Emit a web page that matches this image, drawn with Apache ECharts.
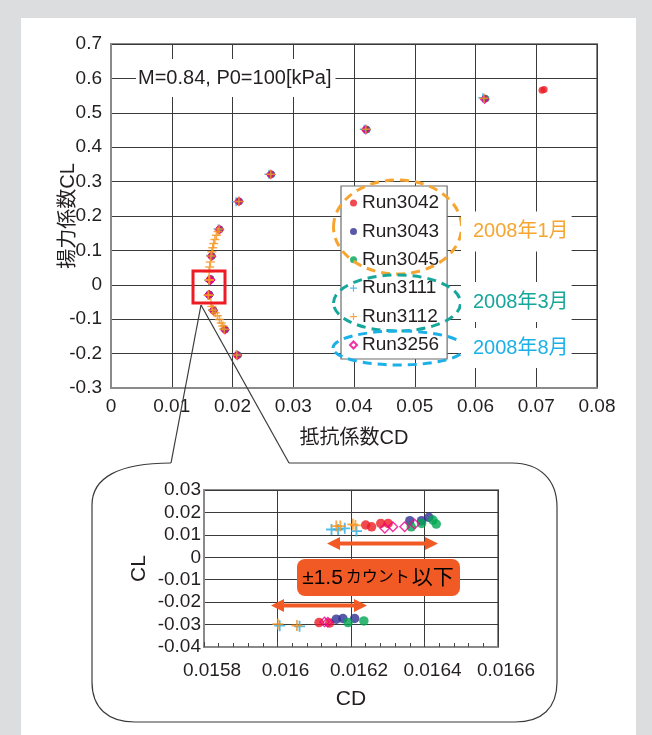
<!DOCTYPE html>
<html>
<head>
<meta charset="utf-8">
<script src="https://cdn.jsdelivr.net/npm/echarts@6.0.0/dist/echarts.min.js"></script>
<style>
  html, body { margin: 0; padding: 0; background: #dcdddf; }
  #chart { width: 652px; height: 735px; }
</style>
</head>
<body>
<div id="chart"></div>
<script>
// Wind-tunnel polar, M=0.84, P0=100 kPa: [CD, CL] per run
const run3042 = [
  [0.02075, -0.2045], [0.01870, -0.1300], [0.01680, -0.0745],
  [0.016113, -0.0291], [0.016142, -0.0293],
  [0.01624, 0.0144], [0.016256, 0.0136], [0.016281, 0.0151], [0.016301, 0.0151],
  [0.01652, 0.0835], [0.01780, 0.1610], [0.02100, 0.2425], [0.02625, 0.3210],
  [0.04190, 0.4515], [0.07095, 0.5655], [0.07130, 0.5675]
];
const run3043 = [
  [0.02085, -0.2035], [0.01880, -0.1290], [0.01690, -0.0735],
  [0.01616, -0.0276], [0.016178, -0.0273], [0.01621, -0.0273],
  [0.01636, 0.0163], [0.016392, 0.0163], [0.016412, 0.0178],
  [0.01660, 0.0845], [0.01790, 0.1620], [0.02110, 0.2430], [0.02640, 0.3220],
  [0.04210, 0.4525], [0.06160, 0.5420]
];
const run3045 = [
  [0.02095, -0.2050], [0.01885, -0.1305], [0.01695, -0.0750],
  [0.016192, -0.0291], [0.016235, -0.0284],
  [0.016364, 0.0136], [0.016392, 0.0151], [0.016423, 0.0166], [0.016432, 0.0148],
  [0.01665, 0.0830], [0.01795, 0.1605], [0.02115, 0.2420], [0.02645, 0.3205],
  [0.04215, 0.4505], [0.06170, 0.5410]
];
const run3111 = [
  [0.02060, -0.2030], [0.01860, -0.1285], [0.01670, -0.0730],
  [0.016006, -0.0305], [0.016060, -0.0308],
  [0.016147, 0.0124], [0.016165, 0.0124], [0.016183, 0.0129], [0.016215, 0.0117],
  [0.01640, 0.0850], [0.01765, 0.1625], [0.02060, 0.2415], [0.02600, 0.3215],
  [0.04170, 0.4525], [0.06120, 0.5440]
];
const run3112 = [
  [0.02070, -0.2040], [0.01865, -0.1295], [0.01840, -0.1200], [0.01815, -0.1110],
  [0.01785, -0.1010], [0.01750, -0.0900], [0.01715, -0.0810], [0.01675, -0.0740],
  [0.01660, -0.0630], [0.01645, -0.0520],
  [0.016001, -0.0298], [0.016053, -0.0304],
  [0.01616, 0.0139], [0.016171, 0.0139], [0.016205, 0.0147], [0.016212, 0.0142],
  [0.01615, 0.0380], [0.01625, 0.0520], [0.01635, 0.0660], [0.01645, 0.0840],
  [0.01660, 0.0960], [0.01675, 0.1080], [0.01690, 0.1200], [0.01710, 0.1320],
  [0.01735, 0.1440], [0.01760, 0.1550], [0.01780, 0.1620],
  [0.02105, 0.2420], [0.02630, 0.3215], [0.04195, 0.4520], [0.06140, 0.5420]
];
const run3256 = [
  [0.02080, -0.2050], [0.01875, -0.1305], [0.01685, -0.0745],
  [0.016128, -0.0288], [0.016137, -0.0290],
  [0.016292, 0.0129], [0.016314, 0.0136], [0.016346, 0.0136], [0.016373, 0.0148],
  [0.01655, 0.0830], [0.01785, 0.1605], [0.02105, 0.2425], [0.02630, 0.3205],
  [0.04195, 0.4510], [0.06150, 0.5395]
];

const runNames = ['Run3042', 'Run3043', 'Run3045', 'Run3111', 'Run3112', 'Run3256'];
const groupLabels = ['2008年1月', '2008年3月', '2008年8月'];

// axis ranges
const mainX = { min: 0, max: 0.08, interval: 0.01 };
const mainY = { min: -0.3, max: 0.7, interval: 0.1 };
const zoomX = { min: 0.0158, max: 0.0166, interval: 0.0002 };
const zoomY = { min: -0.04, max: 0.03, interval: 0.01 };

const FONT = '"Liberation Sans", "Noto Sans CJK JP", sans-serif';
const TEXT = '#231f20';
const CROSS = 'path://M5,0h2v12h-2zM0,5h12v2h-12z';

const runs = [
  { name: 'Run3042', data: run3042, color: '#ed1c24', shape: 'dot' },
  { name: 'Run3043', data: run3043, color: '#2e3192', shape: 'dot' },
  { name: 'Run3045', data: run3045, color: '#00a651', shape: 'dot' },
  { name: 'Run3111', data: run3111, color: '#29abe2', shape: 'cross' },
  { name: 'Run3256', data: run3256, color: '#ec008c', shape: 'diamond' },
  { name: 'Run3112', data: run3112, color: '#f7941d', shape: 'cross' }
];

function makeSeries(run, axisIndex, inset) {
  const s = {
    type: 'scatter', name: run.name, data: run.data,
    xAxisIndex: axisIndex, yAxisIndex: axisIndex,
    clip: true, silent: true
  };
  if (run.shape === 'dot') {
    s.symbol = 'circle';
    s.symbolSize = inset ? 9.5 : 7;
    s.itemStyle = { color: run.color };
  } else if (run.shape === 'cross') {
    s.symbol = CROSS;
    s.symbolSize = inset ? 11 : 9;
    s.itemStyle = { color: run.color };
  } else {
    s.symbol = 'diamond';
    s.symbolSize = inset ? 9.5 : 7;
    s.itemStyle = { color: 'rgba(255,255,255,0)', borderColor: run.color, borderWidth: inset ? 1.4 : 2.2 };
  }
  return s;
}

const series = [];
runs.forEach(r => series.push(makeSeries(r, 0, false)));
runs.forEach(r => series.push(makeSeries(r, 1, true)));

const gridLine = { lineStyle: { color: '#3a3a3a', width: 1 } };
const axisFrame = { onZero: false, lineStyle: { color: '#8a8a8a', width: 2 } };
const tickFont = { fontFamily: FONT, fontSize: 19, color: TEXT };

function arrowPoints(x1, x2, y) {
  const h = 13, w = 6.5, t = 2;
  return [[x1, y], [x1 + h, y - w], [x1 + h, y - t], [x2 - h, y - t], [x2 - h, y - w],
          [x2, y], [x2 - h, y + w], [x2 - h, y + t], [x1 + h, y + t], [x1 + h, y + w]];
}

// callout outline: straight edges and rounded corners
const bubbleStroke = { fill: null, stroke: '#3b3b3b', lineWidth: 1.2 };
function seg(x1, y1, x2, y2) {
  return { type: 'line', z: 20, silent: true, shape: { x1, y1, x2, y2 }, style: bubbleStroke };
}
function corner(x1, y1, cpx1, cpy1, cpx2, cpy2, x2, y2) {
  return { type: 'bezierCurve', z: 20, silent: true, shape: { x1, y1, cpx1, cpy1, cpx2, cpy2, x2, y2 }, style: bubbleStroke };
}
const bubble = [
  seg(201, 305, 289, 463),
  seg(289, 463, 512, 463),
  corner(512, 463, 540, 463, 557, 480, 557, 507),
  seg(557, 507, 557, 682),
  corner(557, 682, 557, 708, 542, 722, 515, 722),
  seg(515, 722, 135, 722),
  corner(135, 722, 108, 722, 92, 708, 92, 682),
  seg(92, 682, 92, 505),
  corner(92, 505, 92, 478, 118, 463, 171, 463),
  seg(171, 463, 201, 305)
];

const nameFont = size => ({ fontFamily: FONT, fontSize: size, color: TEXT });

const option = {
  backgroundColor: '#dcdddf',
  animation: false,
  textStyle: { fontFamily: FONT },
  grid: [
    { left: 111, top: 44, width: 486, height: 344, show: true, borderColor: '#8a8a8a', borderWidth: 2, backgroundColor: 'rgba(0,0,0,0)' },
    { left: 204, top: 490, width: 294, height: 157, show: true, borderColor: '#8a8a8a', borderWidth: 2, backgroundColor: 'rgba(0,0,0,0)' }
  ],
  xAxis: [
    {
      type: 'value', gridIndex: 0, min: mainX.min, max: mainX.max, interval: mainX.interval,
      axisLine: axisFrame, axisTick: { show: false }, splitLine: gridLine,
      axisLabel: Object.assign({ margin: 9 }, tickFont),
      name: '抵抗係数CD', nameLocation: 'middle', nameGap: 40, nameMoveOverlap: false,
      nameTextStyle: nameFont(20)
    },
    {
      type: 'value', gridIndex: 1, min: zoomX.min, max: zoomX.max, interval: zoomX.interval,
      axisLine: axisFrame,
      axisTick: { show: true, inside: true, length: 5, lineStyle: { color: '#444' } },
      minorTick: { show: true, splitNumber: 5, length: 4, lineStyle: { color: '#444' } },
      splitLine: gridLine,
      axisLabel: Object.assign({ margin: 14, padding: [0, 0, 0, 16] }, tickFont),
      name: 'CD', nameLocation: 'middle', nameGap: 42, nameMoveOverlap: false,
      nameTextStyle: nameFont(21)
    }
  ],
  yAxis: [
    {
      type: 'value', gridIndex: 0, min: mainY.min, max: mainY.max, interval: mainY.interval,
      axisLine: axisFrame, axisTick: { show: false }, splitLine: gridLine,
      axisLabel: Object.assign({ margin: 9 }, tickFont),
      name: '揚力係数CL', nameLocation: 'middle', nameGap: 33, nameRotate: 90, nameMoveOverlap: false,
      nameTextStyle: nameFont(20)
    },
    {
      type: 'value', gridIndex: 1, min: zoomY.min, max: zoomY.max, interval: zoomY.interval,
      axisLine: axisFrame, axisTick: { show: false }, splitLine: gridLine,
      axisLabel: Object.assign({ margin: 3 }, tickFont),
      name: 'CL', nameLocation: 'middle', nameGap: 54, nameRotate: 90, nameMoveOverlap: false,
      nameTextStyle: nameFont(21)
    }
  ],
  legend: {
    orient: 'vertical', left: 341, top: 186,
    padding: [7, 8, 4, 8], itemGap: 8.4, itemWidth: 7, itemHeight: 7,
    backgroundColor: '#fff', borderColor: '#6d6d6d', borderWidth: 1.2,
    selectedMode: false,
    textStyle: { fontFamily: FONT, fontSize: 19, color: TEXT, lineHeight: 20 },
    data: [
      { name: runNames[0], icon: 'circle' },
      { name: runNames[1], icon: 'circle' },
      { name: runNames[2], icon: 'circle' },
      { name: runNames[3], icon: CROSS },
      { name: runNames[4], icon: CROSS },
      { name: runNames[5], icon: 'diamond' }
    ]
  },
  series: series,
  graphic: [
    // white panel
    { type: 'rect', z: -10, silent: true, shape: { x: 21, y: 18, width: 615, height: 720 }, style: { fill: '#ffffff' } },
    ...bubble,
    // highlight box on the main plot
    { type: 'rect', z: 30, silent: true, shape: { x: 193, y: 271, width: 32, height: 32 }, style: { fill: null, stroke: '#ed1c24', lineWidth: 3 } },
    // condition label
    {
      type: 'text', z: 10, silent: true, x: 136, y: 78,
      style: { text: 'M=0.84, P0=100[kPa]', font: '20px ' + FONT, fill: TEXT, verticalAlign: 'middle',
               backgroundColor: '#fff', padding: [9, 4, 9, 2] }
    },
    // test-period groupings
    { type: 'ellipse', z: 40, silent: true, shape: { cx: 397.5, cy: 227, rx: 64, ry: 47 }, style: { fill: null, stroke: '#f6a531', lineWidth: 3, lineDash: [9, 6] } },
    { type: 'ellipse', z: 40, silent: true, shape: { cx: 397, cy: 303, rx: 63.5, ry: 28 }, style: { fill: null, stroke: '#16a69a', lineWidth: 3, lineDash: [9, 6] } },
    { type: 'ellipse', z: 40, silent: true, shape: { cx: 399, cy: 348, rx: 66, ry: 17 }, style: { fill: null, stroke: '#1cb0e8', lineWidth: 3, lineDash: [9, 6] } },
    {
      type: 'text', z: 45, silent: true, x: 461, y: 231.5,
      style: { text: groupLabels[0], font: '20px ' + FONT, fill: '#f6a531', verticalAlign: 'middle', backgroundColor: '#fff', padding: [10, 3, 10, 12] }
    },
    {
      type: 'text', z: 45, silent: true, x: 461, y: 302,
      style: { text: groupLabels[1], font: '20px ' + FONT, fill: '#16a69a', verticalAlign: 'middle', backgroundColor: '#fff', padding: [10, 3, 10, 12] }
    },
    {
      type: 'text', z: 45, silent: true, x: 461, y: 348,
      style: { text: groupLabels[2], font: '20px ' + FONT, fill: '#1cb0e8', verticalAlign: 'middle', backgroundColor: '#fff', padding: [10, 3, 10, 12] }
    },
    // repeatability spans in the inset
    { type: 'polygon', z: 50, silent: true, shape: { points: arrowPoints(327, 438, 543.5) }, style: { fill: '#f15a24' } },
    { type: 'polygon', z: 50, silent: true, shape: { points: arrowPoints(271, 367, 605.5) }, style: { fill: '#f15a24' } },
    { type: 'rect', z: 50, silent: true, shape: { x: 297, y: 559, width: 163, height: 37, r: 8 }, style: { fill: '#f15a24' } },
    {
      type: 'text', z: 55, silent: true, x: 378, y: 578,
      style: {
        text: '{a|±1.5}{b|カウント}{a|以下}',
        align: 'center', verticalAlign: 'middle',
        rich: {
          a: { fontFamily: FONT, fontSize: 21, color: '#fff' },
          b: { fontFamily: FONT, fontSize: 16, color: '#fff', padding: [0, 2, 0, 3] }
        }
      }
    }
  ]
};

const chart = echarts.init(document.getElementById('chart'), null, { renderer: 'canvas' });
chart.setOption(option);
</script>
</body>
</html>
